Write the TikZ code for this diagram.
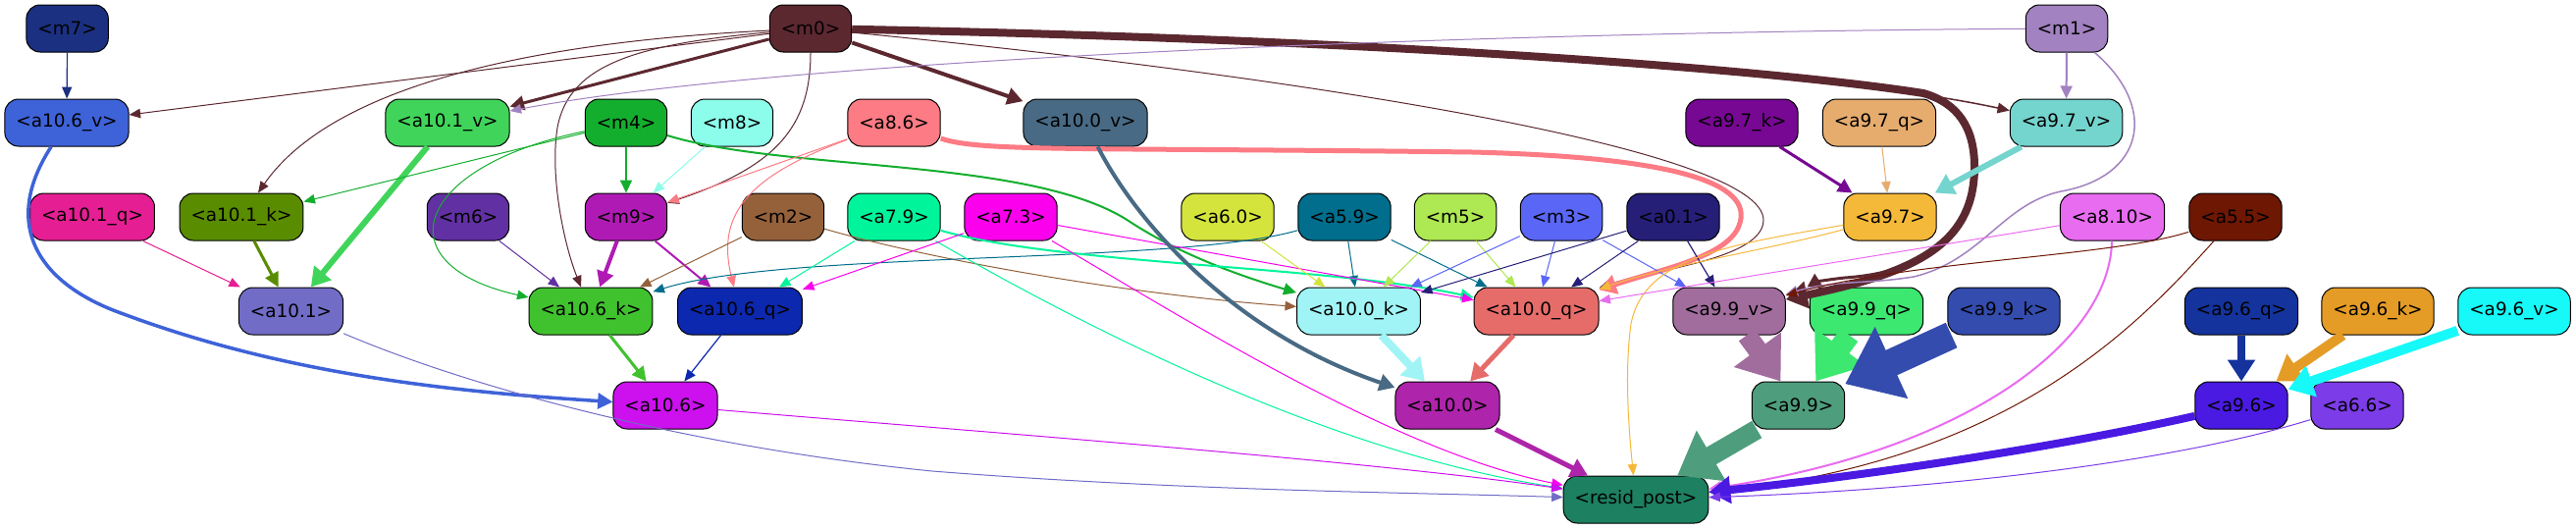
\documentclass[tikz,border=0pt]{standalone}
\usepackage{fontspec}
\setmainfont{DejaVu Sans}
\usetikzlibrary{arrows.meta}
\definecolor{cm7}{HTML}{1B3080}
\definecolor{cm0}{HTML}{5C2830}
\definecolor{cm1}{HTML}{A282C0}
\definecolor{ca106v}{HTML}{3E62D8}
\definecolor{ca101v}{HTML}{40D55A}
\definecolor{cm4}{HTML}{14AE2E}
\definecolor{cm8}{HTML}{8CFDEA}
\definecolor{ca86}{HTML}{FC7B84}
\definecolor{ca100v}{HTML}{486A84}
\definecolor{ca97k}{HTML}{770893}
\definecolor{ca97q}{HTML}{E6AC6E}
\definecolor{ca97v}{HTML}{74D4CE}
\definecolor{ca101q}{HTML}{E61E93}
\definecolor{ca101k}{HTML}{5A8C00}
\definecolor{cm6}{HTML}{6130A2}
\definecolor{cm9}{HTML}{B01AB4}
\definecolor{cm2}{HTML}{95613B}
\definecolor{ca79}{HTML}{00F59A}
\definecolor{ca73}{HTML}{FA00EC}
\definecolor{ca60}{HTML}{D4E43C}
\definecolor{ca59}{HTML}{006E8C}
\definecolor{cm5}{HTML}{AEE852}
\definecolor{cm3}{HTML}{5A66F5}
\definecolor{ca01}{HTML}{251F78}
\definecolor{ca97}{HTML}{F5B93A}
\definecolor{ca810}{HTML}{E86CF0}
\definecolor{ca55}{HTML}{6E1703}
\definecolor{ca101}{HTML}{716CC6}
\definecolor{ca106k}{HTML}{40C22E}
\definecolor{ca106q}{HTML}{0C28AE}
\definecolor{ca100k}{HTML}{A0F4F5}
\definecolor{ca100q}{HTML}{E66C6A}
\definecolor{ca99v}{HTML}{A16D9D}
\definecolor{ca99q}{HTML}{3CE870}
\definecolor{ca99k}{HTML}{344CAE}
\definecolor{ca96q}{HTML}{14339C}
\definecolor{ca96k}{HTML}{E49C26}
\definecolor{ca96v}{HTML}{17F9F8}
\definecolor{ca106}{HTML}{CC10EE}
\definecolor{ca100}{HTML}{AE24AA}
\definecolor{ca99}{HTML}{4E9E7E}
\definecolor{ca96}{HTML}{4A1AE2}
\definecolor{ca66}{HTML}{7C3CE8}
\definecolor{crp}{HTML}{1D8060}
\tikzset{
  nd/.style={draw=black, line width=1pt, rounded corners=14pt, minimum height=48pt,
    inner xsep=11.5pt, inner ysep=0pt, font=\fontsize{18.4}{22}\selectfont, fill=#1, text=black},
  ed/.style 2 args={draw=#1, line width=#2pt, -{Triangle[length=10pt 1.5, width=7pt 2.5]}},
}
\begin{document}
\begin{tikzpicture}[x=1pt,y=-1pt]
\fill[white] (0,0) rectangle (2625,539);
\useasboundingbox (0,0) rectangle (2625,539);
% row 1
\node[nd=cm7] (m7) at (68.6,29) {<m7>};
\node[nd=cm0] (m0) at (826,29) {<m0>};
\node[nd=cm1] (m1) at (2106,29) {<m1>};
% row 2
\node[nd=ca106v] (a106v) at (68,125) {<a10.6\_v>};
\node[nd=ca101v] (a101v) at (456,125) {<a10.1\_v>};
\node[nd=cm4] (m4) at (638,125) {<m4>};
\node[nd=cm8] (m8) at (746,125) {<m8>};
\node[nd=ca86] (a86) at (911,125) {<a8.6>};
\node[nd=ca100v] (a100v) at (1106,125) {<a10.0\_v>};
\node[nd=ca97k] (a97k) at (1775,125) {<a9.7\_k>};
\node[nd=ca97q] (a97q) at (1915,125) {<a9.7\_q>};
\node[nd=ca97v] (a97v) at (2105.5,125) {<a9.7\_v>};
% row 3
\node[nd=ca101q] (a101q) at (94,221) {<a10.1\_q>};
\node[nd=ca101k] (a101k) at (246,221) {<a10.1\_k>};
\node[nd=cm6] (m6) at (477,221) {<m6>};
\node[nd=cm9] (m9) at (638,221) {<m9>};
\node[nd=cm2] (m2) at (798,221) {<m2>};
\node[nd=ca79] (a79) at (911,221) {<a7.9>};
\node[nd=ca73] (a73) at (1030,221) {<a7.3>};
\node[nd=ca60] (a60) at (1251,221) {<a6.0>};
\node[nd=ca59] (a59) at (1370,221) {<a5.9>};
\node[nd=cm5] (m5) at (1483,221) {<m5>};
\node[nd=cm3] (m3) at (1591,221) {<m3>};
\node[nd=ca01] (a01) at (1705,221) {<a0.1>};
\node[nd=ca97] (a97) at (1926,221) {<a9.7>};
\node[nd=ca810] (a810) at (2152.5,221) {<a8.10>};
\node[nd=ca55] (a55) at (2278,221) {<a5.5>};
% row 4
\node[nd=ca101] (a101) at (296.5,317) {<a10.1>};
\node[nd=ca106k] (a106k) at (602,317) {<a10.6\_k>};
\node[nd=ca106q] (a106q) at (754,317) {<a10.6\_q>};
\node[nd=ca100k] (a100k) at (1384.5,317) {<a10.0\_k>};
\node[nd=ca100q] (a100q) at (1565.5,317) {<a10.0\_q>};
\node[nd=ca99v] (a99v) at (1762,317) {<a9.9\_v>};
\node[nd=ca99q] (a99q) at (1902,317) {<a9.9\_q>};
\node[nd=ca99k] (a99k) at (2042,317) {<a9.9\_k>};
\node[nd=ca96q] (a96q) at (2284,317) {<a9.6\_q>};
\node[nd=ca96k] (a96k) at (2423,317) {<a9.6\_k>};
\node[nd=ca96v] (a96v) at (2562,317) {<a9.6\_v>};
% row 5
\node[nd=ca106] (a106) at (678,413) {<a10.6>};
\node[nd=ca100] (a100) at (1475,413) {<a10.0>};
\node[nd=ca99] (a99) at (1832.5,413) {<a9.9>};
\node[nd=ca96] (a96) at (2284,413) {<a9.6>};
\node[nd=ca66] (a66) at (2402,413) {<a6.6>};
% row 6
\node[nd=crp] (rp) at (1667,509) {<resid\_post>};
% waypoints
\coordinate (w1) at (1960,95);
\coordinate (w2) at (2012,170);
\coordinate (w3) at (1880,283);
% edges
\draw[ed={cm7}{1.2}] (m7) -- (a106v);
\draw[ed={cm0}{1}] (m0) -- (a106v);
\draw[ed={cm0}{1}] (m0) .. controls (500,45) and (330,100) .. (a101k);
\draw[ed={cm0}{1}] (m0) .. controls (650,45) and (580,65) .. (568,130) .. controls (560,180) and (575,250) .. (a106k);
\draw[ed={cm0}{1}] (m0) .. controls (826,130) and (790,170) .. (m9);
\draw[ed={cm0}{3}] (m0) -- (a101v);
\draw[ed={cm0}{4}] (m0) -- (a100v);
\draw[ed={cm0}{1}] (m0) .. controls (1300,75) and (1800,150) .. (1797,225) .. controls (1795,265) and (1680,275) .. (a100q);
\draw[ed={cm0}{1.5}] (m0) .. controls (1400,42) and (1850,70) .. (a97v);
\draw[ed={cm0}{3}] (m0) .. controls (1400,40) and (1800,70) .. (w1) .. controls (1995,105) and (2012,130) .. (w2) .. controls (2012,250) and (1950,278) .. (w3) .. controls (1860,285) and (1850,288) .. (a99q);
\draw[ed={cm0}{8}] (m0) .. controls (1400,40) and (1800,70) .. (w1) .. controls (1995,105) and (2012,130) .. (w2) .. controls (2012,250) and (1950,278) .. (a99v);
\draw[ed={cm1}{1}] (m1) .. controls (1500,33) and (800,60) .. (a101v);
\draw[ed={cm1}{2}] (m1) -- (a97v);
\draw[ed={cm1}{1.5}] (m1) .. controls (2200,110) and (2185,180) .. (2100,195) .. controls (2040,208) and (2020,265) .. (1950,282) .. controls (1900,290) and (1870,285) .. (a99v);
\draw[ed={ca106v}{3.5}] (a106v) .. controls (0,230) and (40,290) .. (126,320) .. controls (300,385) and (480,400) .. (a106);
\draw[ed={ca101v}{6}] (a101v) -- (a101);
\draw[ed={ca101q}{1}] (a101q) -- (a101);
\draw[ed={ca101k}{3}] (a101k) -- (a101);
\draw[ed={cm4}{1}] (m4) -- (a101k);
\draw[ed={cm4}{1}] (m4) .. controls (420,170) and (390,270) .. (a106k);
\draw[ed={cm4}{2}] (m4) -- (m9);
\draw[ed={cm4}{2}] (m4) .. controls (800,175) and (1050,160) .. (1150,225) .. controls (1200,258) and (1260,280) .. (a100k);
\draw[ed={cm8}{1}] (m8) -- (m9);
\draw[ed={ca86}{1}] (a86) -- (m9);
\draw[ed={ca86}{1}] (a86) .. controls (760,180) and (730,220) .. (a106q);
\draw[ed={ca86}{5}] (a86) .. controls (1000,155) and (1100,150) .. (1500,155) .. controls (1700,160) and (1790,185) .. (1772,230) .. controls (1760,262) and (1690,275) .. (a100q);
\draw[ed={cm9}{4}] (m9) -- (a106k);
\draw[ed={cm9}{2}] (m9) -- (a106q);
\draw[ed={cm6}{1}] (m6) -- (a106k);
\draw[ed={cm2}{1}] (m2) -- (a106k);
\draw[ed={cm2}{1}] (m2) .. controls (950,265) and (1150,300) .. (a100k);
\draw[ed={ca59}{1}] (a59) .. controls (1200,270) and (800,255) .. (a106k);
\draw[ed={ca59}{1}] (a59) -- (a100k);
\draw[ed={ca59}{1}] (a59) -- (a100q);
\draw[ed={ca79}{1}] (a79) -- (a106q);
\draw[ed={ca79}{2}] (a79) .. controls (1080,270) and (1350,270) .. (a100q);
\draw[ed={ca79}{1}] (a79) .. controls (1100,330) and (1350,460) .. (rp);
\draw[ed={ca73}{1}] (a73) -- (a106q);
\draw[ed={ca73}{1}] (a73) -- (a100q);
\draw[ed={ca73}{1}] (a73) .. controls (1200,320) and (1420,460) .. (rp);
\draw[ed={ca60}{1}] (a60) -- (a100k);
\draw[ed={cm5}{1}] (m5) -- (a100k);
\draw[ed={cm5}{1}] (m5) -- (a100q);
\draw[ed={cm3}{1}] (m3) -- (a100k);
\draw[ed={cm3}{1}] (m3) -- (a100q);
\draw[ed={cm3}{1}] (m3) -- (a99v);
\draw[ed={ca01}{1}] (a01) -- (a100k);
\draw[ed={ca01}{1}] (a01) -- (a100q);
\draw[ed={ca01}{1.2}] (a01) -- (a99v);
\draw[ed={ca97}{1}] (a97) .. controls (1800,255) and (1700,270) .. (a100q);
\draw[ed={ca97}{1}] (a97) .. controls (1760,250) and (1675,262) .. (1662,330) .. controls (1655,380) and (1660,440) .. (rp);
\draw[ed={ca810}{1}] (a810) -- (a100q);
\draw[ed={ca810}{2}] (a810) .. controls (2150,350) and (2000,460) .. (rp);
\draw[ed={ca55}{1}] (a55) .. controls (2150,262) and (1950,265) .. (a99v);
\draw[ed={ca55}{1}] (a55) .. controls (2180,330) and (2050,470) .. (rp);
\draw[ed={ca106k}{3}] (a106k) -- (a106);
\draw[ed={ca106q}{1.2}] (a106q) -- (a106);
\draw[ed={ca106}{1}] (a106) .. controls (1000,440) and (1400,470) .. (rp);
\draw[ed={ca101}{1}] (a101) .. controls (480,395) and (700,455) .. (950,480) .. controls (1200,500) and (1450,502) .. (rp);
\draw[ed={ca100v}{4}] (a100v) .. controls (1160,230) and (1260,340) .. (a100);
\draw[ed={ca100k}{8}] (a100k) -- (a100);
\draw[ed={ca100q}{5}] (a100q) -- (a100);
\draw[ed={ca100}{5}] (a100) -- (rp);
\draw[ed={ca99v}{20}] (a99v) -- (a99);
\draw[ed={ca99q}{22}] (a99q) -- (a99);
\draw[ed={ca99k}{28}] (a99k) -- (a99);
\draw[ed={ca99}{20}] (a99) -- (rp);
\draw[ed={ca97k}{3}] (a97k) -- (a97);
\draw[ed={ca97q}{1}] (a97q) -- (a97);
\draw[ed={ca97v}{6}] (a97v) -- (a97);
\draw[ed={ca96q}{8}] (a96q) -- (a96);
\draw[ed={ca96k}{10}] (a96k) -- (a96);
\draw[ed={ca96v}{10}] (a96v) -- (a96);
\draw[ed={ca96}{8}] (a96) .. controls (2100,455) and (1900,485) .. (rp);
\draw[ed={ca66}{1}] (a66) .. controls (2200,475) and (1950,500) .. (rp);
\end{tikzpicture}
\end{document}
